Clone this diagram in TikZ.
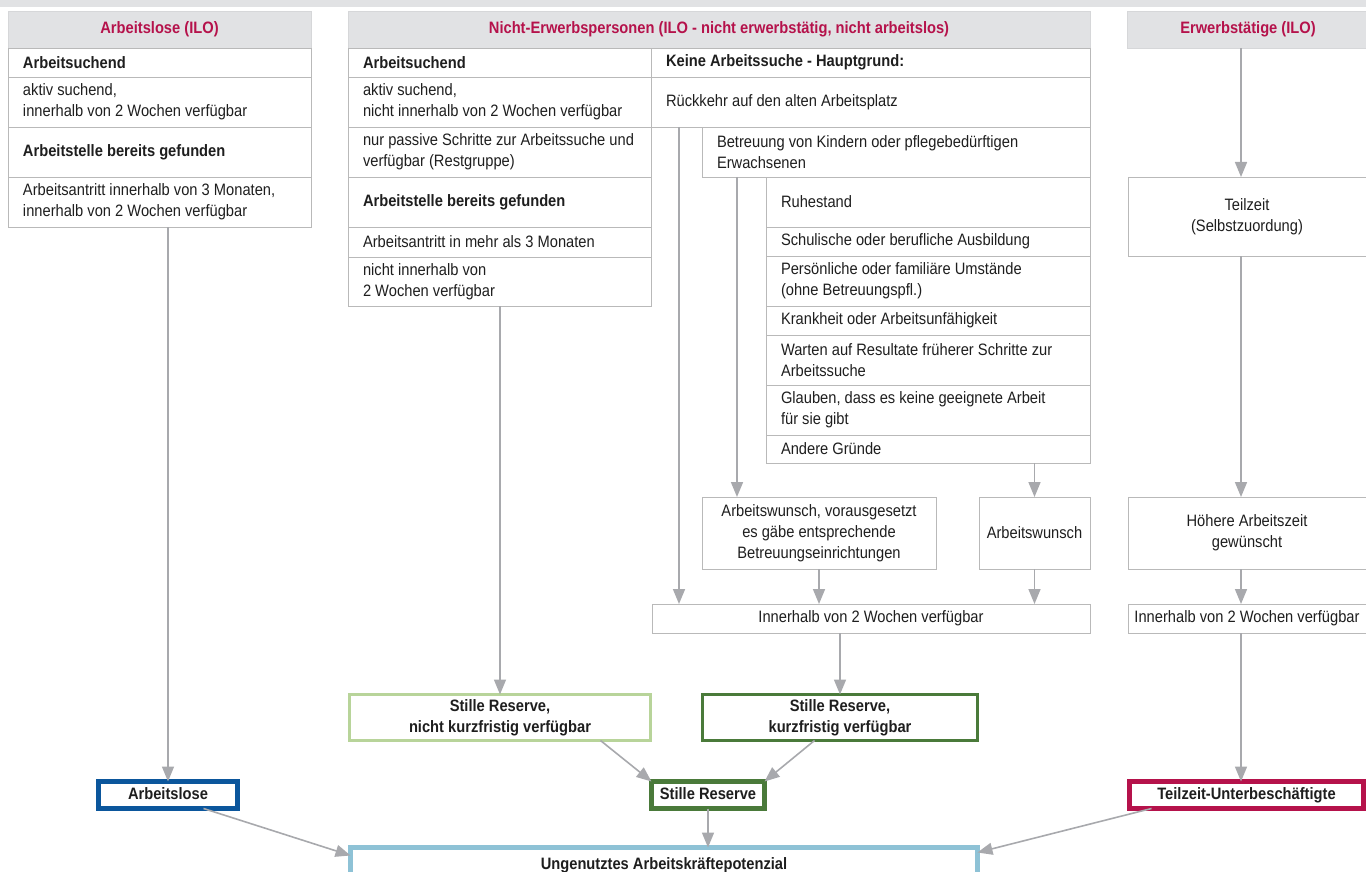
\documentclass[tikz,border=0pt]{standalone}
\usepackage{fontspec}
\setmainfont{Liberation Sans}[FakeStretch=0.89]
\usetikzlibrary{arrows.meta}
\definecolor{hdrgray}{RGB}{225,226,228}
\definecolor{crim}{RGB}{181,18,75}
\definecolor{txt}{RGB}{30,30,30}
\definecolor{cline}{RGB}{185,185,185}
\definecolor{arrg}{RGB}{168,169,173}
\definecolor{bblue}{RGB}{11,86,156}
\definecolor{dgreen}{RGB}{74,122,58}
\definecolor{lgreen}{RGB}{184,212,154}
\definecolor{lblue}{RGB}{142,194,214}
\newcommand{\fs}{\fontsize{16.5}{20.8}\selectfont}
\tikzset{
  cell/.style={draw=cline, line width=0.9pt, anchor=north west, inner sep=0pt, outer sep=0pt},
  lt/.style={anchor=west, align=left, inner sep=0pt, outer sep=0pt, font=\fs, text=txt},
  ccell/.style={cell, align=center, font=\fs, text=txt},
  hdr/.style={fill=hdrgray, draw=hdrgray!95!black, line width=0.5pt, anchor=north west, inner sep=0pt, outer sep=0pt, font=\fs\bfseries, text=crim},
  res/.style={draw=#1, line width=3pt, fill=white, inner sep=0pt, outer sep=0pt, align=center, font=\fs\bfseries, text=txt},
  thk/.style={draw=#1, line width=5pt, fill=white, inner sep=0pt, outer sep=0pt, align=center, font=\fs\bfseries, text=txt, text height=12pt, text depth=3.5pt},
  arr/.style={draw=arrg, line width=1.6pt, -{Triangle[width=12pt,length=15pt]}},
}
% name, x, y, width, height, text
\newcommand{\lcell}[6]{%
  \node[cell, minimum width=#4pt, minimum height=#5pt] (#1) at (#2,#3) {};
  \node[lt] (#1t) at ([xshift=15pt]#1.west) {#6};}
\begin{document}
\begin{tikzpicture}[x=1pt,y=-1pt]
\useasboundingbox (0,0) rectangle (1366,872);
\clip (0,0) rectangle (1366,872);
\fill[hdrgray] (0,0) rectangle (1366,7);
% headers
\node[hdr, minimum width=303pt, minimum height=37pt] (h1) at (8,11) {Arbeitslose (ILO)};
\node[hdr, minimum width=742pt, minimum height=37pt] (h2) at (348,11) {Nicht-Erwerbspersonen (ILO - nicht erwerbstätig, nicht arbeitslos)};
\node[hdr, minimum width=242pt, minimum height=37pt] (h3) at (1127,11) {Erwerbstätige (ILO)};
% column 1
\lcell{c1a}{8}{48}{303}{29}{\bfseries Arbeitsuchend}
\lcell{c1b}{8}{77}{303}{50}{aktiv suchend,\\innerhalb von 2 Wochen verfügbar}
\lcell{c1c}{8}{127}{303}{50}{\bfseries Arbeitstelle bereits gefunden}
\lcell{c1d}{8}{177}{303}{50}{Arbeitsantritt innerhalb von 3 Monaten,\\innerhalb von 2 Wochen verfügbar}
% column 2 left
\lcell{c2a}{348}{48}{303}{29}{\bfseries Arbeitsuchend}
\lcell{c2b}{348}{77}{303}{50}{aktiv suchend,\\nicht innerhalb von 2 Wochen verfügbar}
\lcell{c2c}{348}{127}{303}{50}{nur passive Schritte zur Arbeitssuche und\\verfügbar (Restgruppe)}
\lcell{c2d}{348}{177}{303}{50}{\bfseries Arbeitstelle bereits gefunden}
\lcell{c2e}{348}{227}{303}{30}{Arbeitsantritt in mehr als 3 Monaten}
\lcell{c2f}{348}{257}{303}{49}{nicht innerhalb von\\2 Wochen verfügbar}
% column 2 right
\lcell{k0}{651}{48}{439}{29}{\bfseries Keine Arbeitssuche - Hauptgrund:}
\lcell{kr}{651}{77}{439}{50}{Rückkehr auf den alten Arbeitsplatz}
\lcell{kb}{702}{127}{388}{50}{Betreuung von Kindern oder pflegebedürftigen\\Erwachsenen}
\lcell{l1}{766}{177}{324}{50}{Ruhestand}
\lcell{l2}{766}{227}{324}{29}{Schulische oder berufliche Ausbildung}
\lcell{l3}{766}{256}{324}{50}{Persönliche oder familiäre Umstände\\(ohne Betreuungspfl.)}
\lcell{l4}{766}{306}{324}{29}{Krankheit oder Arbeitsunfähigkeit}
\lcell{l5}{766}{335}{324}{50}{Warten auf Resultate früherer Schritte zur\\Arbeitssuche}
\lcell{l6}{766}{385}{324}{50}{Glauben, dass es keine geeignete Arbeit\\für sie gibt}
\lcell{l7}{766}{435}{324}{28}{Andere Gründe}
\node[ccell, minimum width=234pt, minimum height=72pt] (aw1) at (702,497) {Arbeitswunsch, vorausgesetzt\\es gäbe entsprechende\\Betreuungseinrichtungen};
\node[ccell, minimum width=111pt, minimum height=72pt] (aw2) at (979,497) {Arbeitswunsch};
\node[ccell, minimum width=438pt, minimum height=29pt] (inn) at (652,604) {Innerhalb von 2 Wochen verfügbar};
% column 3
\coordinate (c3) at (1241,0);
\node[ccell, minimum width=238pt, minimum height=79pt] (t1) at (1128,177) {Teilzeit\\(Selbstzuordung)};
\node[ccell, minimum width=238pt, minimum height=72pt] (t2) at (1128,497) {Höhere Arbeitszeit\\gewünscht};
\node[ccell, minimum width=238pt, minimum height=29pt] (t3) at (1128,604) {Innerhalb von 2 Wochen verfügbar};
% result boxes
\node[res=lgreen, minimum width=301pt, minimum height=46pt] (nk) at (500,717.5) {Stille Reserve,\\nicht kurzfristig verfügbar};
\node[res=dgreen, minimum width=275pt, minimum height=46pt] (kf) at (840,717.5) {Stille Reserve,\\kurzfristig verfügbar};
\node[thk=bblue, minimum width=139pt, minimum height=27pt] (al) at (168,795) {Arbeitslose};
\node[thk=dgreen, minimum width=113pt, minimum height=27pt] (sr) at (708,795) {Stille Reserve};
\node[thk=crim, minimum width=234pt, minimum height=27pt] (tu) at (1246.5,795) {Teilzeit-Unterbeschäftigte};
\node[thk=lblue, anchor=north, minimum width=627pt, minimum height=36pt] (ung) at (664,847.5) {Ungenutztes Arbeitskräftepotenzial};
% arrows
\draw[arr] (al.north |- c1d.south) -- (al.north);
\draw[arr] (nk.north |- c2f.south) -- (nk.north);
\draw[arr] ([xshift=28pt]kr.south west) -- ([xshift=28pt]kr.south west |- inn.north);
\draw[arr] ([xshift=35pt]kb.south west) -- ([xshift=35pt]kb.south west |- aw1.north);
\draw[arr] (aw2.north |- l7.south) -- (aw2.north);
\draw[arr] (aw1.south) -- (aw1.south |- inn.north);
\draw[arr] (aw2.south) -- (aw2.south |- inn.north);
\draw[arr] (kf.north |- inn.south) -- (kf.north);
\draw[arr] (c3 |- h3.south) -- (c3 |- t1.north);
\draw[arr] (c3 |- t1.south) -- (c3 |- t2.north);
\draw[arr] (c3 |- t2.south) -- (c3 |- t3.north);
\draw[arr] (c3 |- t3.south) -- (c3 |- tu.north);
\draw[arr] ([xshift=-50pt]nk.south east) -- (sr.north west);
\draw[arr] ([xshift=112pt]kf.south west) -- (sr.north east);
\draw[arr] (sr.south) -- (sr.south |- ung.north);
\draw[arr] ([xshift=-34pt]al.south east) -- ([yshift=-8pt]ung.north west);
\draw[arr] ([xshift=22pt]tu.south west) -- ([yshift=-5pt]ung.north east);
\end{tikzpicture}
\end{document}
